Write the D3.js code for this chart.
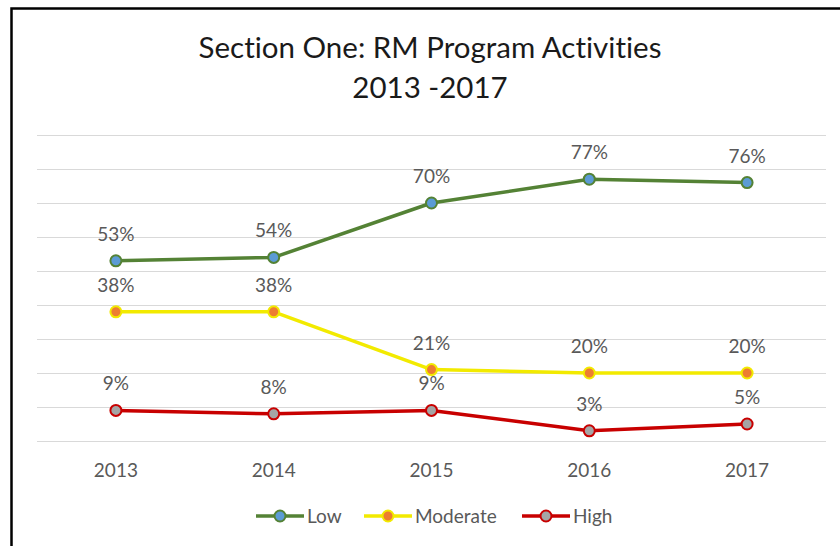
<!DOCTYPE html>
<html>
<head>
<meta charset="utf-8">
<script src="https://cdn.jsdelivr.net/npm/d3@7"></script>
<style>
  html, body { margin: 0; padding: 0; background: #fff; }
  svg { display: block; font-family: Lato, "Open Sans", sans-serif; font-variant-ligatures: none; }
</style>
</head>
<body>
<div id="chart"></div>
<script>
const years = ["2013", "2014", "2015", "2016", "2017"];
const low = [53, 54, 70, 77, 76];
const moderate = [38, 38, 21, 20, 20];
const high = [9, 8, 9, 3, 5];
const seriesNames = ["Low", "Moderate", "High"];
const yTicks = [0, 10, 20, 30, 40, 50, 60, 70, 80, 90];

const width = 840;
const height = 546;

const series = [
  { name: "Low", values: low, line: "#548235", fill: "#5B9BD5" },
  { name: "Moderate", values: moderate, line: "#F2EA00", fill: "#ED7D31" },
  { name: "High", values: high, line: "#C80000", fill: "#A5A5A5" }
];

const svg = d3.select("#chart")
  .append("svg")
    .attr("width", width)
    .attr("height", height);

// chart border (cropped at the right and bottom)
svg.append("rect")
  .attr("x", 11.5)
  .attr("y", 8.5)
  .attr("width", 900)
  .attr("height", 600)
  .attr("fill", "none")
  .attr("stroke", "#000")
  .attr("stroke-width", 2.5);

// title
const title = svg.append("text")
  .attr("text-anchor", "middle")
  .style("font-size", "29.5px")
  .style("fill", "#1a1a1a");
title.append("tspan").attr("x", 430).attr("y", 58).text("Section One: RM Program Activities");
title.append("tspan").attr("x", 430).attr("y", 98).text("2013 -2017");

const xScale = d3.scaleBand()
  .domain(years)
  .range([37, 826]);

const yScale = d3.scaleLinear()
  .domain([0, 90])
  .range([441, 135]);

const cx = d => xScale(d) + xScale.bandwidth() / 2;

// gridlines
svg.append("g")
  .attr("transform", `translate(37, 0)`)
  .call(d3.axisLeft(yScale).tickValues(yTicks).tickSize(-(826 - 37)).tickFormat(""))
  .call(g => g.select(".domain").remove())
  .call(g => g.selectAll(".tick line").attr("stroke", "#d9d9d9").attr("stroke-width", 1));

// category labels
svg.append("g")
  .selectAll("text")
  .data(years)
  .join("text")
    .attr("x", d => cx(d))
    .attr("y", 477)
    .attr("text-anchor", "middle")
    .style("font-size", "19px")
    .style("fill", "#595959")
    .text(d => d);

const lineGenerator = d3.line()
  .x((d, i) => cx(years[i]))
  .y(d => yScale(d));

series.forEach(s => {
  const g = svg.append("g");
  g.append("path")
    .attr("d", lineGenerator(s.values))
    .attr("fill", "none")
    .attr("stroke", s.line)
    .attr("stroke-width", 3.5)
    .attr("stroke-linejoin", "round");
  g.selectAll("circle")
    .data(s.values)
    .join("circle")
      .attr("cx", (d, i) => cx(years[i]))
      .attr("cy", d => yScale(d))
      .attr("r", 5.5)
      .attr("fill", s.fill)
      .attr("stroke", s.line)
      .attr("stroke-width", 2);
  g.selectAll("text")
    .data(s.values)
    .join("text")
      .attr("x", (d, i) => cx(years[i]))
      .attr("y", d => yScale(d) - 20)
      .attr("text-anchor", "middle")
      .style("font-size", "19px")
      .style("fill", "#595959")
      .text(d => d + "%");
});

// legend
const legendX = [256, 364, 522];
const legend = svg.append("g")
  .selectAll("g")
  .data(series)
  .join("g")
    .attr("transform", (d, i) => `translate(${legendX[i]}, 516)`);
legend.append("line")
  .attr("x1", 0).attr("x2", 48)
  .attr("stroke", d => d.line)
  .attr("stroke-width", 3.5);
legend.append("circle")
  .attr("cx", 24)
  .attr("r", 5.5)
  .attr("fill", d => d.fill)
  .attr("stroke", d => d.line)
  .attr("stroke-width", 2);
legend.append("text")
  .attr("x", 51)
  .attr("y", 7)
  .style("font-size", "19px")
  .style("fill", "#595959")
  .text((d, i) => seriesNames[i]);
</script>
</body>
</html>
